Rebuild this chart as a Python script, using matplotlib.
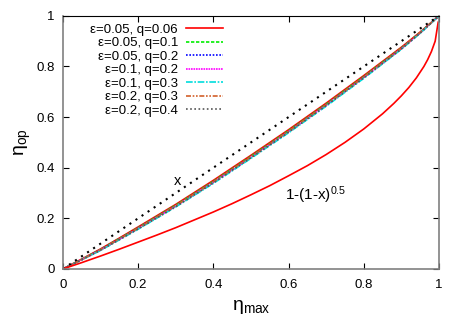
import numpy as np
import matplotlib
matplotlib.use("Agg")
import matplotlib.pyplot as plt

plt.rcParams['font.family'] = ['Liberation Sans', 'DejaVu Sans']
plt.rcParams['mathtext.default'] = 'regular'

# eta_max grid for the cluster of curves
eta_max = [0, 0.05, 0.1, 0.15, 0.2, 0.3, 0.4, 0.5, 0.6, 0.7, 0.8, 0.9, 0.95, 1.0]

labels = ['ε=0.05, q=0.06', 'ε=0.05, q=0.1', 'ε=0.05, q=0.2', 'ε=0.1, q=0.2',
          'ε=0.1, q=0.3', 'ε=0.2, q=0.3', 'ε=0.2, q=0.4']
eta_a = [0, 0.039, 0.079, 0.122, 0.166, 0.255, 0.350, 0.449, 0.550, 0.655, 0.764, 0.876, 0.936, 1.0]
eta_b = [0, 0.038, 0.077, 0.120, 0.163, 0.252, 0.346, 0.445, 0.546, 0.651, 0.760, 0.873, 0.934, 1.0]
eta_c = [0, 0.037, 0.076, 0.118, 0.161, 0.249, 0.343, 0.442, 0.543, 0.648, 0.757, 0.871, 0.933, 1.0]
eta_d = [0, 0.037, 0.075, 0.117, 0.160, 0.248, 0.342, 0.441, 0.542, 0.647, 0.756, 0.870, 0.932, 1.0]
eta_e = [0, 0.036, 0.073, 0.115, 0.157, 0.245, 0.338, 0.437, 0.538, 0.643, 0.753, 0.868, 0.931, 1.0]
eta_f = [0, 0.037, 0.076, 0.118, 0.161, 0.250, 0.344, 0.443, 0.544, 0.649, 0.758, 0.872, 0.934, 1.0]
eta_g = [0, 0.036, 0.074, 0.116, 0.158, 0.246, 0.340, 0.439, 0.540, 0.645, 0.755, 0.869, 0.932, 1.0]

# reference curves
diag_x = [0, 1.0]
diag_y = [0, 1.0]
low_x = [0, 0.05, 0.1, 0.15, 0.2, 0.25, 0.3, 0.35, 0.4, 0.45, 0.5, 0.55, 0.6, 0.65, 0.7, 0.75,
         0.8, 0.85, 0.88, 0.9, 0.92, 0.94, 0.96, 0.97, 0.98, 0.99, 0.998]
low_y = [0, 0.025, 0.051, 0.078, 0.106, 0.134, 0.163, 0.194, 0.225, 0.258, 0.293, 0.329, 0.368,
         0.408, 0.452, 0.500, 0.553, 0.613, 0.654, 0.684, 0.717, 0.755, 0.800, 0.827, 0.859,
         0.900, 0.975]

fig = plt.figure(figsize=(4.63, 3.24), dpi=100)
ax = fig.add_axes([0.136, 0.170, 0.812, 0.781])

series = [eta_a, eta_b, eta_c, eta_d, eta_e, eta_f, eta_g]
colors = ['#ff0000', '#00ee00', '#0000ff', '#ff00ff', '#00dddd', '#d2602a', '#555555']
styles = ['-', (0, (2, 1)), (0, (1, 1)), (0, (1, 0.5)), (0, (4, 1, 1, 1)), (0, (3, 1, 1, 1, 1, 1)), (0, (1, 1.5))]

for y, c, ls, lab in zip(series, colors, styles, labels):
    ax.plot(eta_max, y, color=c, linestyle=ls, lw=1.2, label=lab)

ax.plot(diag_x, diag_y, color='black', linestyle=(0, (1, 2.5)), lw=1.5)
ax.plot(low_x, low_y, color='#ff0000', lw=1.2)

ax.text(0.305, 0.348, 'x', fontsize=10.5, ha='center', va='center')
ax.text(0.59, 0.29, '1-(1-x)$^{0.5}$', fontsize=11, ha='left', va='center')

ax.set_xlim(0, 1)
ax.set_ylim(0, 1)
ticks = [0, 0.2, 0.4, 0.6, 0.8, 1]
ticklabels = ['0', '0.2', '0.4', '0.6', '0.8', '1']
ax.set_xticks(ticks)
ax.set_xticklabels(ticklabels)
ax.set_yticks(ticks)
ax.set_yticklabels(ticklabels)
ax.tick_params(direction='in', length=4, top=True, right=True, labelsize=9.5)
ax.tick_params(axis='x', pad=7)
ax.tick_params(axis='y', pad=6)

for side in ['left', 'bottom', 'right']:
    ax.spines[side].set_color('#808080')
    ax.spines[side].set_linewidth(1.2)
ax.spines['top'].set_color('black')

ax.set_xlabel(r'$\eta_{max}$', fontsize=14, labelpad=5)
ax.set_ylabel(r'$\eta_{op}$', fontsize=14, labelpad=2)

ax.legend(loc='upper right', bbox_to_anchor=(0.425, 0.97), frameon=False, markerfirst=False,
          fontsize=9.5, handlelength=2.8, handletextpad=0.6, labelspacing=0.1,
          borderaxespad=0, borderpad=0)

fig.savefig('out.png', dpi=100)
